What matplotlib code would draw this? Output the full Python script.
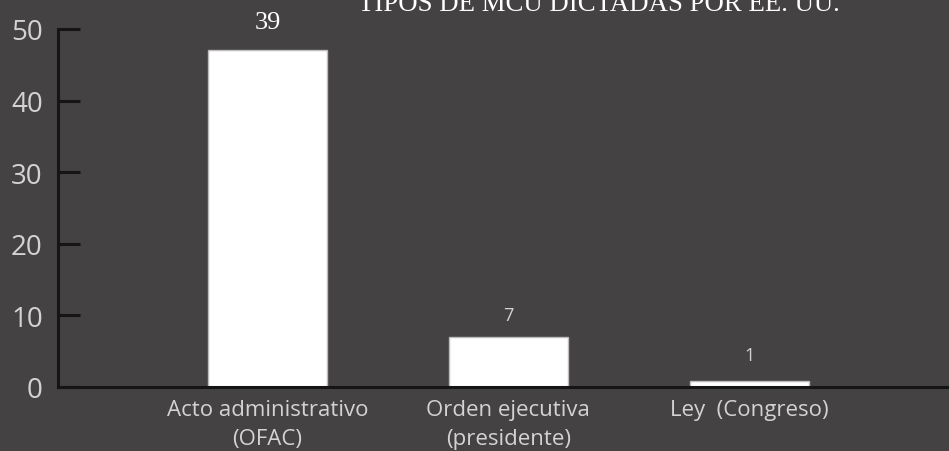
import matplotlib
matplotlib.use("Agg")
import matplotlib.pyplot as plt

categories = ["Acto administrativo\n(OFAC)", "Orden ejecutiva\n(presidente)", "Ley  (Congreso)"]
bar_heights = [47, 7, 0.8]
value_labels = ["39", "7", "1"]
title = "TIPOS DE MCU DICTADAS POR EE. UU."
yticks = [0, 10, 20, 30, 40, 50]

BG = "#444243"
TXT = "#d4d2d3"

fig = plt.figure(figsize=(9.49, 4.52), dpi=100, facecolor=BG)
ax = fig.add_axes([58/949, 64/452, 1 - 58/949, 358/452])
ax.set_facecolor(BG)

x = list(range(len(categories)))
ax.bar(x, bar_heights, width=0.494, color="white", edgecolor="#bdbbbc", linewidth=1.0, zorder=2)

ax.set_xlim(-0.87, 2.83)
ax.set_ylim(0, 50)

for s in ["top", "right"]:
    ax.spines[s].set_visible(False)
for s in ["left", "bottom"]:
    ax.spines[s].set_color("#151515")
    ax.spines[s].set_linewidth(2.2)
    ax.spines[s].set_zorder(3)

ax.set_yticks(yticks)
ax.set_yticklabels([str(v) for v in yticks], family="Open Sans", fontsize=20, color=TXT)
ax.tick_params(axis="y", direction="in", length=16, width=2.2, color="#151515", pad=11)
ax.set_xticks(x)
ax.set_xticklabels(categories, family="Open Sans", fontsize=16, color=TXT, linespacing=1.45)
ax.tick_params(axis="x", length=0, pad=9)

# value labels
ax.text(x[0], bar_heights[0] + 4.0, value_labels[0], family="Liberation Serif", fontsize=19,
        color="white", ha="center", va="center", clip_on=False)
ax.text(x[1], bar_heights[1] + 3.1, value_labels[1], family="Open Sans", fontsize=13,
        color=TXT, ha="center", va="center")
ax.text(x[2], bar_heights[2] + 3.6, value_labels[2], family="Open Sans", fontsize=13,
        color=TXT, ha="center", va="center")

fig.text(358/949, 1 - 11/452, title, family="Liberation Serif", fontsize=19.3, color="white",
         ha="left", va="baseline")

fig.savefig("out.png", dpi=100, facecolor=BG)
